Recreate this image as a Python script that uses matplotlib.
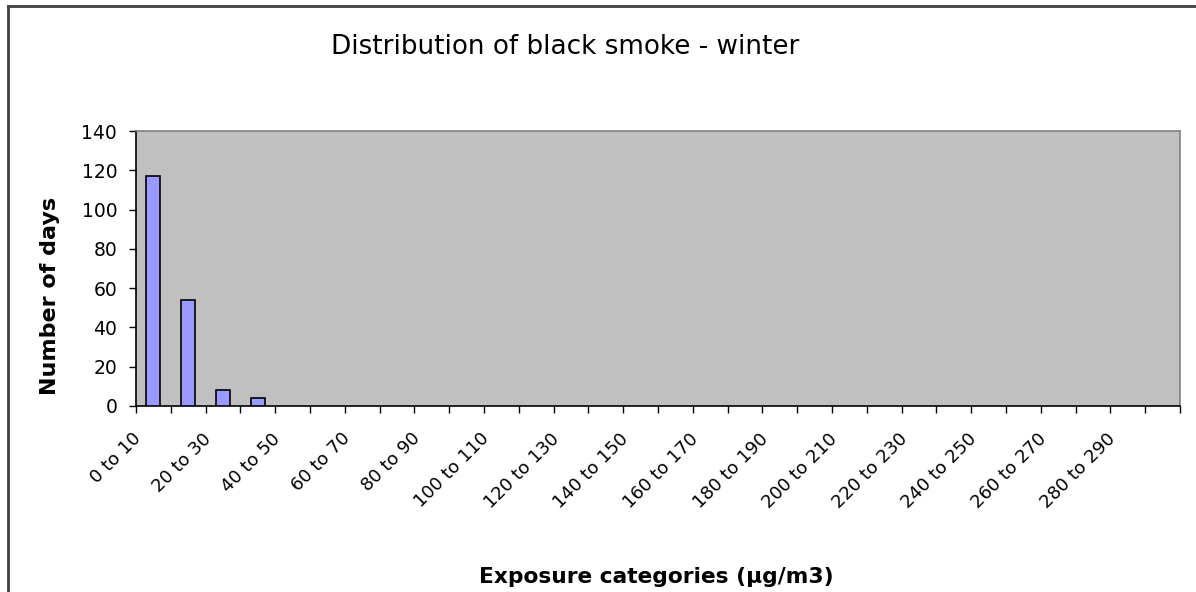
import matplotlib.pyplot as plt
from matplotlib.lines import Line2D
from matplotlib.transforms import ScaledTranslation

plt.rcParams['font.family'] = ['DejaVu Sans']

# exposure classes, 10 ug/m3 wide
categories = ['%d to %d' % (lo, lo + 10) for lo in range(0, 300, 10)]
days = [117, 54, 8, 4, 0, 0, 0, 0, 0, 0,
        0, 0, 0, 0, 0, 0, 0, 0, 0, 0,
        0, 0, 0, 0, 0, 0, 0, 0, 0, 0]
y_ticks = [0, 20, 40, 60, 80, 100, 120, 140]

fig = plt.figure(figsize=(11.96, 5.92), dpi=100)
ax = fig.add_axes([0.1137, 0.3142, 0.8729, 0.4645])

x = list(range(len(categories)))
bars = ax.bar(x, days, width=0.4, color='#9999FF', edgecolor='black', linewidth=1.2, zorder=3)
# empty classes: no outline
for b, v in zip(bars, days):
    if v == 0:
        b.set_visible(False)

ax.set_facecolor('#C0C0C0')
ax.set_ylim(0, 140)
ax.set_yticks(y_ticks)
ax.tick_params(axis='y', direction='out', length=5, width=1, labelsize=13.5, pad=8.5)

# tick marks between classes
ax.set_xticks([i - 0.5 for i in range(len(categories) + 1)])
ax.set_xticklabels([])
ax.tick_params(axis='x', direction='out', length=5, width=1)
ax.set_xlim(-0.5, len(categories) - 0.5)

# labels on every other class, slanted, ending a little left of the bar
off = ax.get_xaxis_transform() + ScaledTranslation(-0.21, -0.236, fig.dpi_scale_trans)
for i in x[::2]:
    ax.text(i, 0, categories[i], transform=off, rotation=45, ha='right', va='top',
            rotation_mode='anchor', fontsize=13, clip_on=False)

for s in ['left', 'bottom']:
    ax.spines[s].set_color('black')
    ax.spines[s].set_linewidth(1.2)
for s in ['top', 'right']:
    ax.spines[s].set_color('#808080')
    ax.spines[s].set_linewidth(1.2)

ax.set_ylabel('Number of days', fontsize=16, fontweight='bold')
ax.yaxis.set_label_coords(50 / 1196, 0.5, transform=fig.transFigure)
ax.set_xlabel('Exposure categories (µg/m3)', fontsize=15.7, fontweight='bold')
ax.xaxis.set_label_coords(656 / 1196, 1 - 577 / 592, transform=fig.transFigure)
ax.xaxis.label.set_va('center')
ax.yaxis.label.set_va('center')
fig.text(565 / 1196, 1 - 47 / 592, 'Distribution of black smoke - winter', fontsize=18.9,
         ha='center', va='center')

# chart border (top and left edge)
fig.add_artist(Line2D([0.0065, 1.0], [0.9895, 0.9895], color='#404040', linewidth=2))
fig.add_artist(Line2D([0.0065, 0.0065], [0.0, 0.9895], color='#404040', linewidth=2))

fig.savefig('out.png', dpi=100)
